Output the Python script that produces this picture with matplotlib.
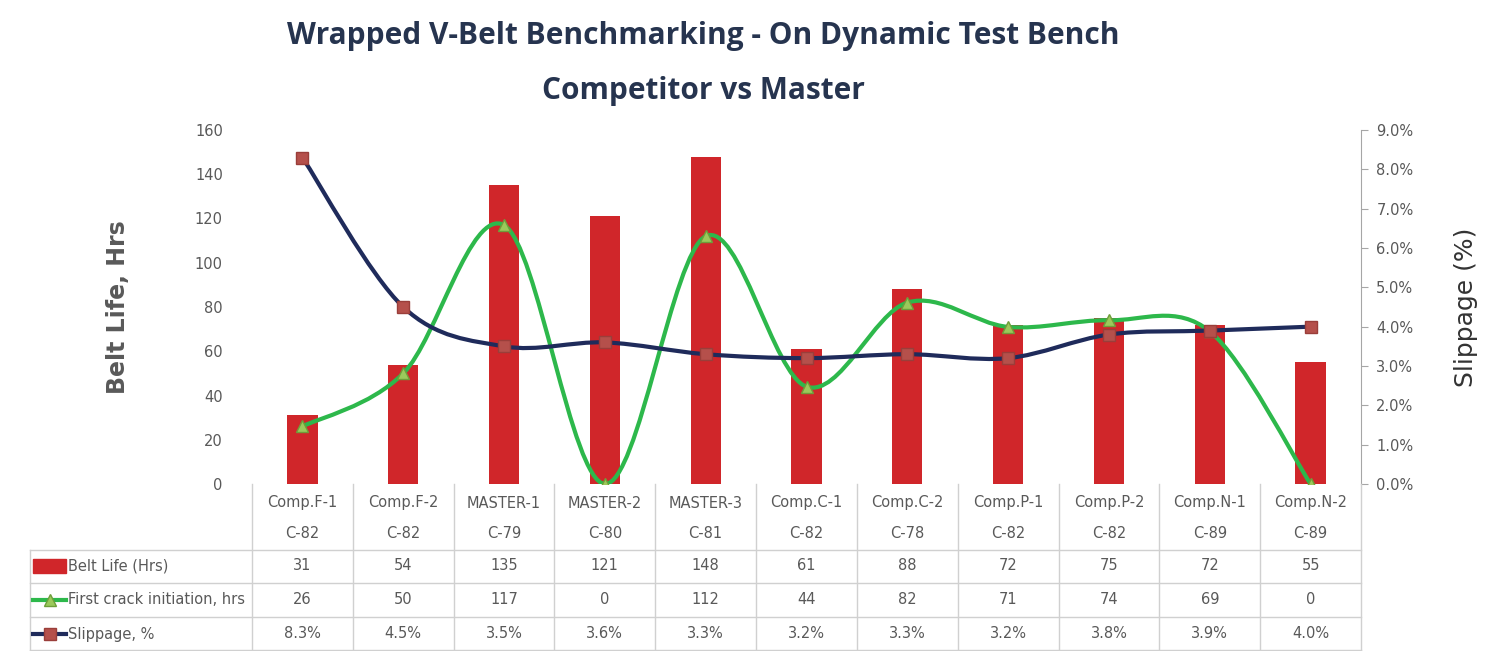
import numpy as np
import matplotlib.pyplot as plt
from matplotlib.path import Path
from matplotlib.patches import PathPatch, Rectangle
from matplotlib.lines import Line2D
from matplotlib.ticker import FuncFormatter
from matplotlib import font_manager

# Donnees
names = ["Comp.F-1", "Comp.F-2", "MASTER-1", "MASTER-2", "MASTER-3", "Comp.C-1",
         "Comp.C-2", "Comp.P-1", "Comp.P-2", "Comp.N-1", "Comp.N-2"]
codes = ["C-82", "C-82", "C-79", "C-80", "C-81", "C-82", "C-78", "C-82", "C-82", "C-89", "C-89"]
belt_life = [31, 54, 135, 121, 148, 61, 88, 72, 75, 72, 55]
first_crack = [26, 50, 117, 0, 112, 44, 82, 71, 74, 69, 0]
slippage = [8.3, 4.5, 3.5, 3.6, 3.3, 3.2, 3.3, 3.2, 3.8, 3.9, 4.0]

red = "#D0262A"
navy = "#1F2B5B"
green = "#2DB84B"
gray = "#595959"

# police etroite si disponible
installed = set(f.name for f in font_manager.fontManager.ttflist)
narrow = "Liberation Sans Narrow" if "Liberation Sans Narrow" in installed else "DejaVu Sans"
fsize = 11.5 if narrow != "DejaVu Sans" else 10.5


def smooth_path(x, y):
    # courbe lissee facon Excel (Bezier cubique)
    p = np.column_stack([x, y]).astype(float)
    pp = np.vstack([p[0], p, p[-1]])
    verts = [p[0]]
    codes_ = [Path.MOVETO]
    for i in range(len(p) - 1):
        c1 = pp[i + 1] + (pp[i + 2] - pp[i]) / 6.
        c2 = pp[i + 2] - (pp[i + 3] - pp[i + 1]) / 6.
        verts += [c1, c2, pp[i + 2]]
        codes_ += [Path.CURVE4] * 3
    return Path(verts, codes_)


fig = plt.figure(figsize=(14.94, 6.51), dpi=100)
L, R, B, T = 252 / 1494, 1361 / 1494, 1 - 484 / 651, 1 - 130 / 651
ax = fig.add_axes([L, B, R - L, T - B])
ax2 = ax.twinx()

x = np.arange(len(names))
ax.bar(x, belt_life, width=0.3, color=red, zorder=2)
ax.set_xlim(-0.5, len(names) - 0.5)
ax.set_ylim(0, 160)
ax.set_yticks(range(0, 161, 20))
ax2.set_ylim(0, 9)
ax2.set_yticks(range(0, 10))
ax2.yaxis.set_major_formatter(FuncFormatter(lambda v, p: "%.1f%%" % v))

ax.add_patch(PathPatch(smooth_path(x, first_crack), fill=False, edgecolor=green, lw=3, zorder=3))
ax.plot(x, first_crack, ls="none", marker="^", ms=8, color="#9BC95B", mec="#6E9E3A", zorder=4)
ax2.add_patch(PathPatch(smooth_path(x, slippage), fill=False, edgecolor=navy, lw=3, zorder=3))
ax2.plot(x, slippage, ls="none", marker="s", ms=8, color="#B5504B", mec="#9A3E3A", zorder=4)

for a in (ax, ax2):
    for s in a.spines.values():
        s.set_visible(False)
    a.tick_params(labelsize=fsize, colors=gray)
    for t in a.get_yticklabels():
        t.set_family(narrow)
ax.tick_params(axis="y", length=0, pad=21)
ax.set_xticks([])
ax2.spines["right"].set_visible(True)
ax2.spines["right"].set_color("#A6A6A6")
ax2.tick_params(axis="y", length=5, color="#A6A6A6", pad=6)

ax.set_ylabel("Belt Life, Hrs", fontsize=17, fontweight="bold", color=gray, labelpad=47)
ax2.set_ylabel("Slippage (%)", fontsize=18, color="#333333", labelpad=29)

fig.text(0.471, 0.945, "Wrapped V-Belt Benchmarking - On Dynamic Test Bench", ha="center",
         va="center", fontsize=21.5, fontweight="bold", color="#26344F", family="Open Sans")
fig.text(0.471, 0.86, "Competitor vs Master", ha="center", va="center", fontsize=21.5,
         fontweight="bold", color="#26344F", family="Open Sans")

# Tableau de donnees sous le graphique
H = 651.
def fy(py):
    return 1 - py / H

line_c = "#D0D0D0"
rows_y = [484, 550, 583, 617, 650]
col_x = L + (R - L) * (np.arange(len(names) + 1)) / len(names)
for cx in col_x:
    fig.add_artist(Line2D([cx, cx], [fy(484), fy(650)], color=line_c, lw=1))
for ry in rows_y[1:]:
    fig.add_artist(Line2D([30 / 1494, R], [fy(ry), fy(ry)], color=line_c, lw=1))
fig.add_artist(Line2D([30 / 1494, 30 / 1494], [fy(550), fy(650)], color=line_c, lw=1))

centers = L + (R - L) * (x + 0.5) / len(names)
tk = dict(ha="center", va="center", fontsize=fsize, color=gray, family=narrow)
for i in range(len(names)):
    fig.text(centers[i], fy(503), names[i], **tk)
    fig.text(centers[i], fy(533), codes[i], **tk)
    fig.text(centers[i], fy(566), str(belt_life[i]), **tk)
    fig.text(centers[i], fy(600), str(first_crack[i]), **tk)
    fig.text(centers[i], fy(634), "%.1f%%" % slippage[i], **tk)

labels = ["Belt Life (Hrs)", "First crack initiation, hrs", "Slippage, %"]
ys = [566, 600, 634]
kx0, kx1 = 33 / 1494, 66 / 1494
fig.add_artist(Rectangle((kx0, fy(573)), kx1 - kx0, 14 / H, color=red))
fig.add_artist(Line2D([kx0, kx1], [fy(600)] * 2, color=green, lw=3))
fig.add_artist(Line2D([(kx0 + kx1) / 2], [fy(600)], marker="^", ms=8, color="#9BC95B", mec="#6E9E3A"))
fig.add_artist(Line2D([kx0, kx1], [fy(634)] * 2, color=navy, lw=3))
fig.add_artist(Line2D([(kx0 + kx1) / 2], [fy(634)], marker="s", ms=8, color="#B5504B", mec="#9A3E3A"))
for lab, yy in zip(labels, ys):
    fig.text(68 / 1494, fy(yy), lab, ha="left", va="center", fontsize=fsize, color=gray, family=narrow)

plt.savefig("out.png", dpi=100)
